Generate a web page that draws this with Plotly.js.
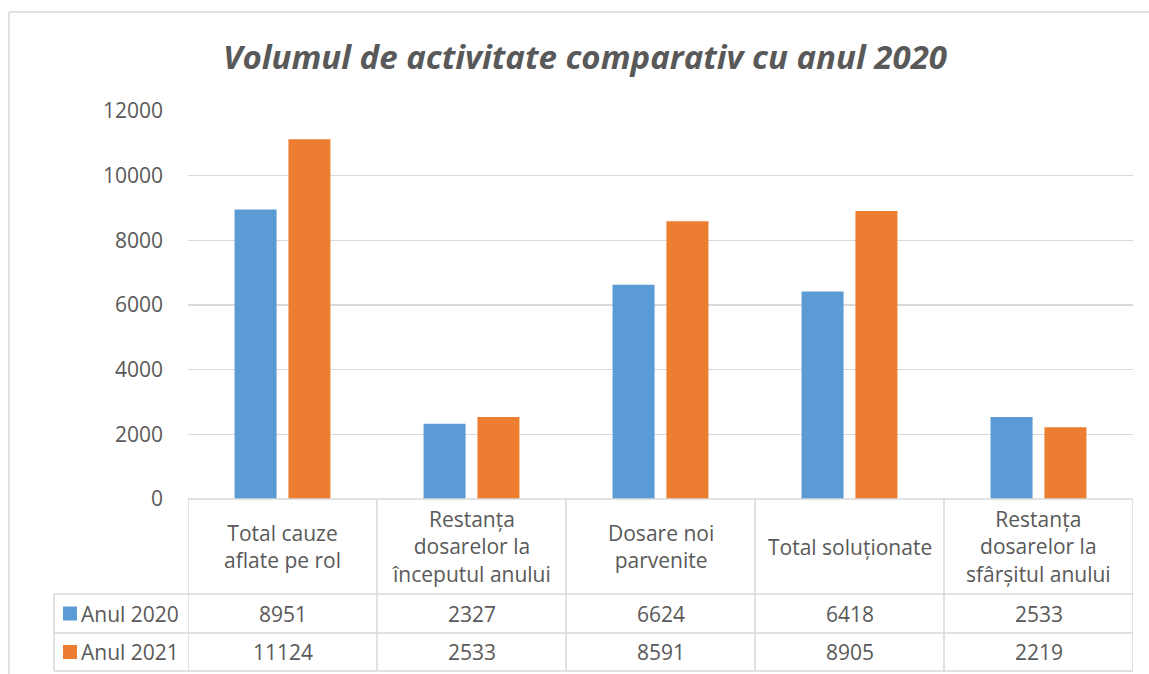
<!DOCTYPE html>
<html>
<head>
<meta charset="utf-8">
<script src="https://cdn.plot.ly/plotly-3.0.1.min.js"></script>
<style>html,body{margin:0;padding:0;background:#fff;}#chart{width:1149px;height:674px;}</style>
</head>
<body>
<div id="chart"></div>
<script>
const categories = [
  "Total cauze<br>aflate pe rol",
  "Restanța<br>dosarelor la<br>începutul anului",
  "Dosare noi<br>parvenite",
  "Total soluționate",
  "Restanța<br>dosarelor la<br>sfârșitul anului"
];
const seriesNames = ["Anul 2020", "Anul 2021"];
const values2020 = [8951, 2327, 6624, 6418, 2533];
const values2021 = [11124, 2533, 8591, 8905, 2219];
const colors = ["#5B9BD5", "#ED7D31"];
const yTicks = [0, 2000, 4000, 6000, 8000, 10000, 12000];

const W = 1149, H = 674;
const L = 188, R = 1133, T = 111, B = 499;
const px = p => (p - L) / (R - L);
const py = p => (B - p) / (B - T);
const FONT = "'Open Sans', 'Liberation Sans', sans-serif";
const TXT = "#595959";
const LINE = "#d9d9d9";

const xs = categories.map((c, i) => i);
const traces = [values2020, values2021].map((v, k) => ({
  type: "bar", x: xs, y: v, name: seriesNames[k],
  marker: {color: colors[k]}, hoverinfo: "y"
}));

const shapes = [];
const annotations = [];
shapes.push({type: "line", xref: "paper", yref: "paper", x0: px(9), x1: px(1160), y0: py(12), y1: py(12), line: {color: LINE, width: 1.5}});
shapes.push({type: "line", xref: "paper", yref: "paper", x0: px(9), x1: px(9), y0: py(12), y1: py(680), line: {color: LINE, width: 1.5}});

const rowTop = 499, headBot = 594, row1Bot = 633, row2Bot = 671, labelLeft = 54;
const tl = {color: LINE, width: 1.5};
shapes.push({type: "line", xref: "paper", yref: "paper", x0: 0, x1: 1, y0: py(rowTop), y1: py(rowTop), line: tl});
[headBot, row1Bot, row2Bot].forEach(p => shapes.push({type: "line", xref: "paper", yref: "paper", x0: px(labelLeft), x1: 1, y0: py(p), y1: py(p), line: tl}));
for (let i = 0; i <= categories.length; i++) {
  shapes.push({type: "line", xref: "x", yref: "paper", x0: i - 0.5, x1: i - 0.5, y0: py(rowTop), y1: py(row2Bot), line: tl});
}
shapes.push({type: "line", xref: "paper", yref: "paper", x0: px(labelLeft), x1: px(labelLeft), y0: py(headBot), y1: py(row2Bot), line: tl});

categories.forEach((c, i) => annotations.push({
  xref: "x", yref: "paper", x: i, y: py((rowTop + headBot) / 2), text: c, showarrow: false,
  xanchor: "center", yanchor: "middle", align: "center", font: {family: FONT, size: 21, color: TXT}
}));
const rowCenters = [(headBot + row1Bot) / 2, (row1Bot + row2Bot) / 2];
[values2020, values2021].forEach((vals, k) => {
  vals.forEach((v, i) => annotations.push({
    xref: "x", yref: "paper", x: i, y: py(rowCenters[k]), text: String(v), showarrow: false,
    xanchor: "center", yanchor: "middle", font: {family: FONT, size: 21, color: TXT}
  }));
  shapes.push({type: "rect", xref: "paper", yref: "paper", x0: px(63), x1: px(77), y0: py(rowCenters[k] - 7), y1: py(rowCenters[k] + 7), line: {width: 0}, fillcolor: colors[k]});
  annotations.push({
    xref: "paper", yref: "paper", x: px(79), y: py(rowCenters[k]), text: seriesNames[k], showarrow: false,
    xanchor: "left", yanchor: "middle", font: {family: FONT, size: 21, color: TXT}
  });
});

const layout = {
  width: W, height: H,
  margin: {l: L, r: W - R, t: T, b: H - B, pad: 0},
  paper_bgcolor: "#fff", plot_bgcolor: "#fff",
  title: {text: "<b><i>Volumul de activitate comparativ cu anul 2020</i></b>", xref: "container", yref: "container",
          x: 585 / W, y: 1 - 57 / H, xanchor: "center", yanchor: "middle",
          font: {family: FONT, size: 33, color: TXT}},
  showlegend: false,
  barmode: "group", bargap: 0.43, bargroupgap: 0.22,
  xaxis: {range: [-0.5, categories.length - 0.5], showticklabels: false, showgrid: false, zeroline: false, showline: false, ticks: "", fixedrange: true},
  yaxis: {range: [0, 12000], tickvals: yTicks, ticktext: yTicks.map(String), showgrid: true, gridcolor: LINE, gridwidth: 1.5,
          zeroline: false, showline: false, ticks: "", ticklabelstandoff: 24,
          tickfont: {family: FONT, size: 21, color: TXT}, fixedrange: true},
  shapes: shapes, annotations: annotations
};
Plotly.newPlot("chart", traces, layout, {displayModeBar: false, staticPlot: true});
</script>
</body>
</html>
